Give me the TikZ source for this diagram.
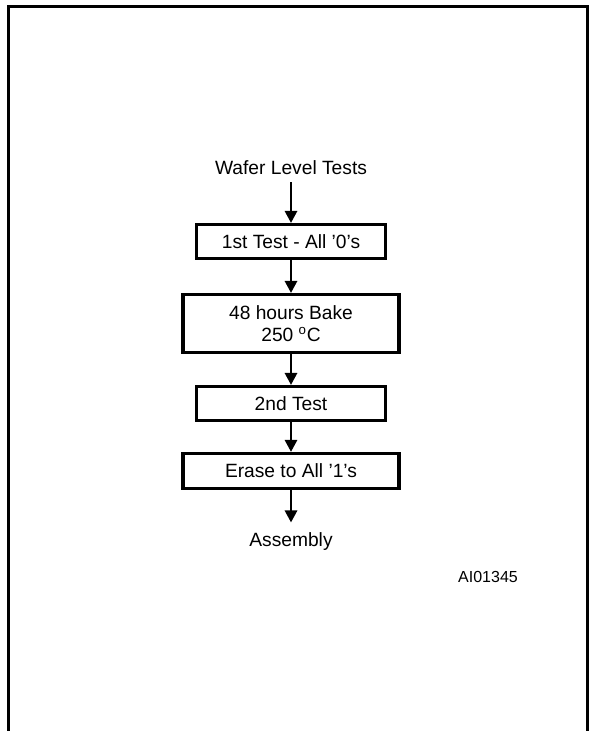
\documentclass[tikz,border=0pt]{standalone}
\usepackage{fontspec}
\setmainfont{Liberation Sans}
\usetikzlibrary{arrows.meta}
\begin{document}
\begin{tikzpicture}[x=0.75pt,y=-0.75pt,
  txt/.style={inner sep=0pt, font=\fontsize{14.4}{17}\selectfont},
  stepbox/.style={draw, line width=2.6pt, inner sep=0pt, align=center,
    font=\fontsize{14.4}{17}\selectfont, minimum height=25.2pt},
  narrowbox/.style={stepbox, minimum width=141.4pt},
  widebox/.style={stepbox, minimum width=162pt},
  flow/.style={line width=2.1pt, -{Triangle[length=9pt,width=9pt]}},
  frame/.style={line width=2.25pt}]
\useasboundingbox (0,0) rectangle (590,731);
\draw[frame] (8,733) -- (8,7) -- (587,7) -- (587,733);
\node[txt, anchor=base] (wafer) at (291,175) {Wafer Level Tests};
\node[narrowbox] (b1) at (291,241.5) {1st Test - All '0's};
\node[widebox, minimum height=43.2pt] (b2) at (291,323.5) {48 hours Bake\\250 \textsuperscript{o}C};
\node[narrowbox] (b3) at (291,403.5) {2nd Test};
\node[widebox, minimum height=26pt] (b4) at (291,471) {Erase to All '1's};
\node[txt, anchor=base] (asm) at (291,546) {Assembly};
\node[inner sep=0pt, anchor=base, font=\fontsize{12}{15}\selectfont] (id) at (488,582) {AI01345};
\draw[flow] ([yshift=-5.25pt]wafer.south) -- (b1.north);
\draw[flow] (b1.south) -- (b2.north);
\draw[flow] (b2.south) -- (b3.north);
\draw[flow] (b3.south) -- (b4.north);
\draw[flow] (b4.south) -- ([yshift=7pt]asm.north);
\end{tikzpicture}
\end{document}
